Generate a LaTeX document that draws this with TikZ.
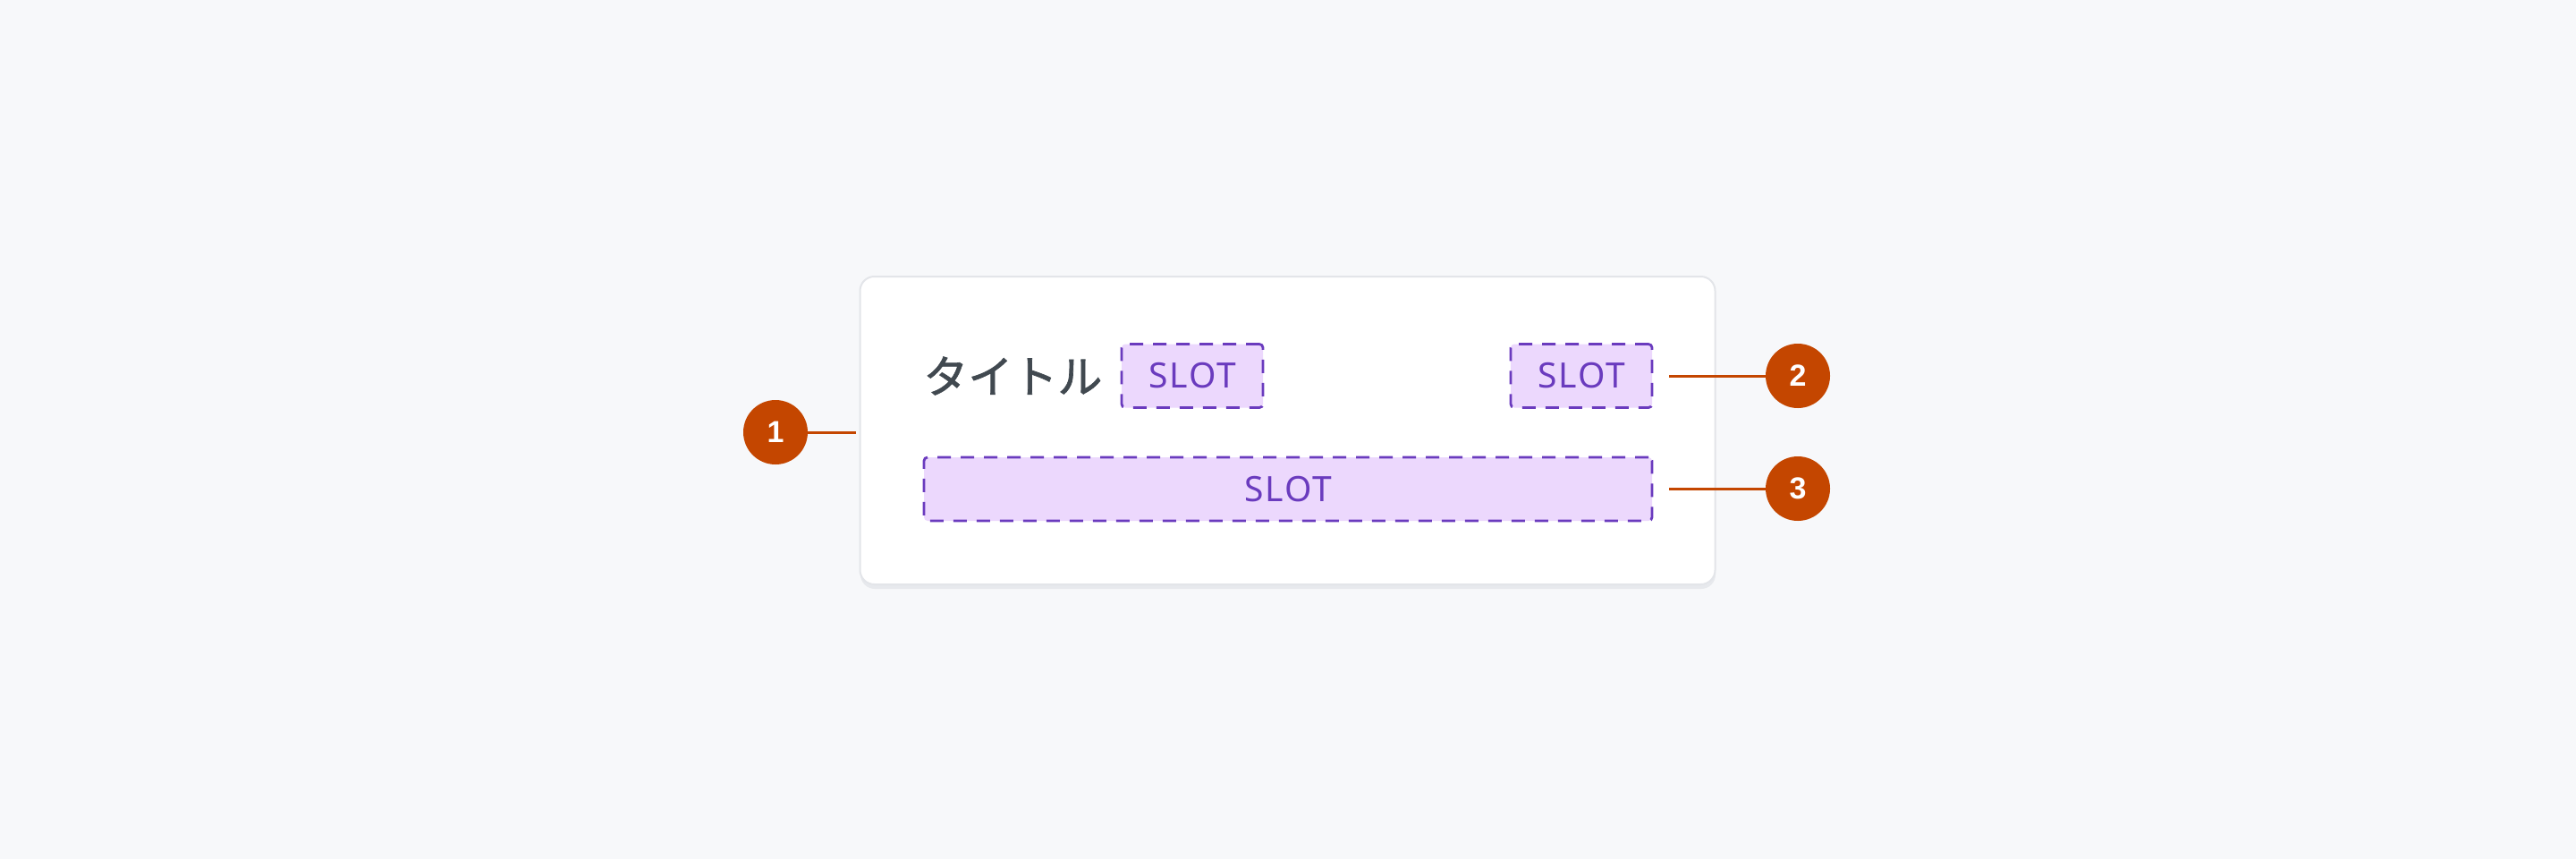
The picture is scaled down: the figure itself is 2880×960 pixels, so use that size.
\documentclass[tikz,border=0pt]{standalone}
\usepackage{fontspec}
\setmainfont{Noto Sans}
\newfontfamily\jpfont[FakeBold=1.4]{Noto Sans CJK JP}
\newfontfamily\slotfont[LetterSpace=5]{Noto Sans}
\newfontfamily\numfont{Liberation Sans}
\definecolor{bg}{HTML}{F7F8FA}
\definecolor{cardborder}{HTML}{E3E5E9}
\definecolor{shadowc}{HTML}{D9DCE1}
\definecolor{titlec}{HTML}{414950}
\definecolor{slotfill}{HTML}{ECD8FD}
\definecolor{slotline}{HTML}{6A3BBE}
\definecolor{calloutc}{HTML}{C44600}
\tikzset{
  card/.style={draw=cardborder, line width=1pt, fill=white, rounded corners=8pt,
    minimum width=478pt, minimum height=172pt, inner sep=0pt},
  slotbox/.style={draw=slotline, fill=slotfill, line width=1.4pt,
    dash pattern=on 7.5pt off 5.5pt, rounded corners=2pt,
    minimum height=35.5pt, inner sep=0pt, text=slotline,
    font=\slotfont\fontsize{19.5}{22}\selectfont},
  callout/.style={circle, fill=calloutc, minimum size=36pt, inner sep=0pt,
    text=white, font=\numfont\bfseries\fontsize{17}{20}\selectfont},
  leader/.style={draw=calloutc, line width=1.5pt},
  titletext/.style={text=titlec, inner sep=0pt, anchor=west,
    font=\jpfont\fontsize{25}{30}\selectfont}
}
\begin{document}
\begin{tikzpicture}[x=0.5pt,y=-0.5pt]
\useasboundingbox (0,0) rectangle (2880,960);
\fill[bg] (0,0) rectangle (2880,960);
% card shadow
\fill[shadowc, opacity=0.5, rounded corners=8pt] (962,314) rectangle (1918,658);
\node[card] (card) at (1439.5,481) {};
% title
\node[titletext] (title) at (1032,420) {タイトル};
% slots
\node[slotbox, minimum width=79pt] (s1) at (1333,420) {SLOT};
\node[slotbox, minimum width=79pt] (s2) at (1768,420) {SLOT};
\node[slotbox, minimum width=407pt] (s3) at (1440,546.5) {SLOT};
% callouts
\node[callout] (c1) at (867,483) {1};
\node[callout] (c2) at (2010,420) {2};
\node[callout] (c3) at (2010,546) {3};
\coordinate (e1) at (957,483);
\coordinate (e2) at (1866,420);
\coordinate (e3) at (1866,546);
\draw[leader] (c1.east) -- (e1);
\draw[leader] (e2) -- (c2.west);
\draw[leader] (e3) -- (c3.west);
\end{tikzpicture}
\end{document}
